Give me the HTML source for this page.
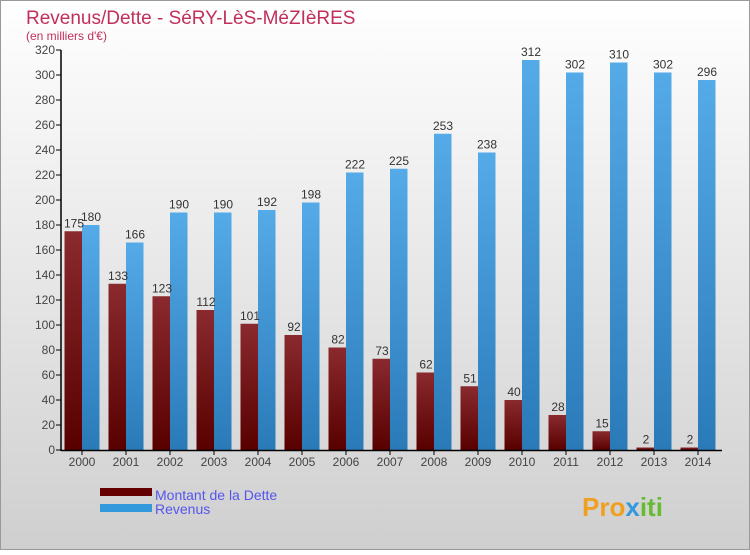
<!DOCTYPE html>
<html><head><meta charset="utf-8"><style>
body{margin:0;}
#c{width:750px;height:550px;position:relative;font-family:"Liberation Sans",sans-serif;}
</style></head><body>
<div id="c">
<svg id="s" width="750" height="550" xmlns="http://www.w3.org/2000/svg">
<defs>
<linearGradient id="bg" x1="0" y1="0" x2="0" y2="1"><stop offset="0" stop-color="#ffffff"/><stop offset="1" stop-color="#cfcfcf"/></linearGradient>
<linearGradient id="gd" x1="0" y1="0" x2="0" y2="1"><stop offset="0" stop-color="#8a2a2e"/><stop offset="1" stop-color="#580000"/></linearGradient>
<linearGradient id="gr" x1="0" y1="0" x2="0" y2="1"><stop offset="0" stop-color="#55aae8"/><stop offset="1" stop-color="#2a7ab8"/></linearGradient>
</defs>
<rect x="0.5" y="0.5" width="749" height="549" fill="url(#bg)" stroke="#999"/>
<text x="26" y="24" font-size="19" fill="#c0305a">Revenus/Dette - SéRY-LèS-MéZIèRES</text>
<text x="26" y="40" font-size="12" fill="#c0305a">(en milliers d'€)</text>
<g id="plot"></g>
<rect x="100" y="488" width="52" height="8" fill="#640000"/>
<rect x="100" y="504" width="52" height="8" fill="#3399dd"/>
<text x="155" y="500" font-size="14" fill="#5555ee">Montant de la Dette</text>
<text x="155" y="514" font-size="14" fill="#5555ee">Revenus</text>
<text x="582" y="516" font-size="26" font-weight="bold" fill="#f0a020">Pro<tspan fill="#3399dd">x</tspan><tspan fill="#66bb33">iti</tspan></text>
</svg>
</div>
<script>
const years=["2000","2001","2002","2003","2004","2005","2006","2007","2008","2009","2010","2011","2012","2013","2014"];
const debt=[175,133,123,112,101,92,82,73,62,51,40,28,15,2,2];
const revenue=[180,166,190,190,192,198,222,225,253,238,312,302,310,302,296];
const yTicks=[0,20,40,60,80,100,120,140,160,180,200,220,240,260,280,300,320];
const NS="http://www.w3.org/2000/svg";
const g=document.getElementById('plot');
const y=v=>450-v*1.25;
const xc=i=>82+i*44;
function mk(t,a){const e=document.createElementNS(NS,t);for(const k in a)e.setAttribute(k,a[k]);g.appendChild(e);return e;}
yTicks.forEach(v=>{
 const l=mk('line',{x1:56,x2:61,y1:y(v),y2:y(v),stroke:'#000'});
 
 
 const t=mk('text',{x:55,y:y(v)+4,'font-size':12,fill:'#444','text-anchor':'end'});t.textContent=v;
 
 
});
years.forEach((yr,i)=>{
 const c=xc(i);
 const b1=mk('rect',{x:c-17.5,y:y(debt[i]),width:17.5,height:debt[i]*1.25,fill:'url(#gd)'});
 
 
 const b2=mk('rect',{x:c,y:y(revenue[i]),width:17.5,height:revenue[i]*1.25,fill:'url(#gr)'});
 
 
 const t1=mk('text',{x:c-8,y:y(debt[i])-4,'font-size':12,fill:'#333','text-anchor':'middle'});t1.textContent=debt[i];
 
 
 const t2=mk('text',{x:c+9,y:y(revenue[i])-4,'font-size':12,fill:'#333','text-anchor':'middle'});t2.textContent=revenue[i];
 
 
 const tk=mk('line',{x1:c,x2:c,y1:450,y2:455,stroke:'#000'});
 
 
 const xl=mk('text',{x:c,y:466,'font-size':12,fill:'#444','text-anchor':'middle'});xl.textContent=yr;
 
 
});
const ax=mk('line',{x1:61,x2:61,y1:50,y2:451,stroke:'#000','stroke-width':1.5});


const bx=mk('line',{x1:61,x2:722,y1:450.5,y2:450.5,stroke:'#000','stroke-width':1.5});


</script>
</body></html>
